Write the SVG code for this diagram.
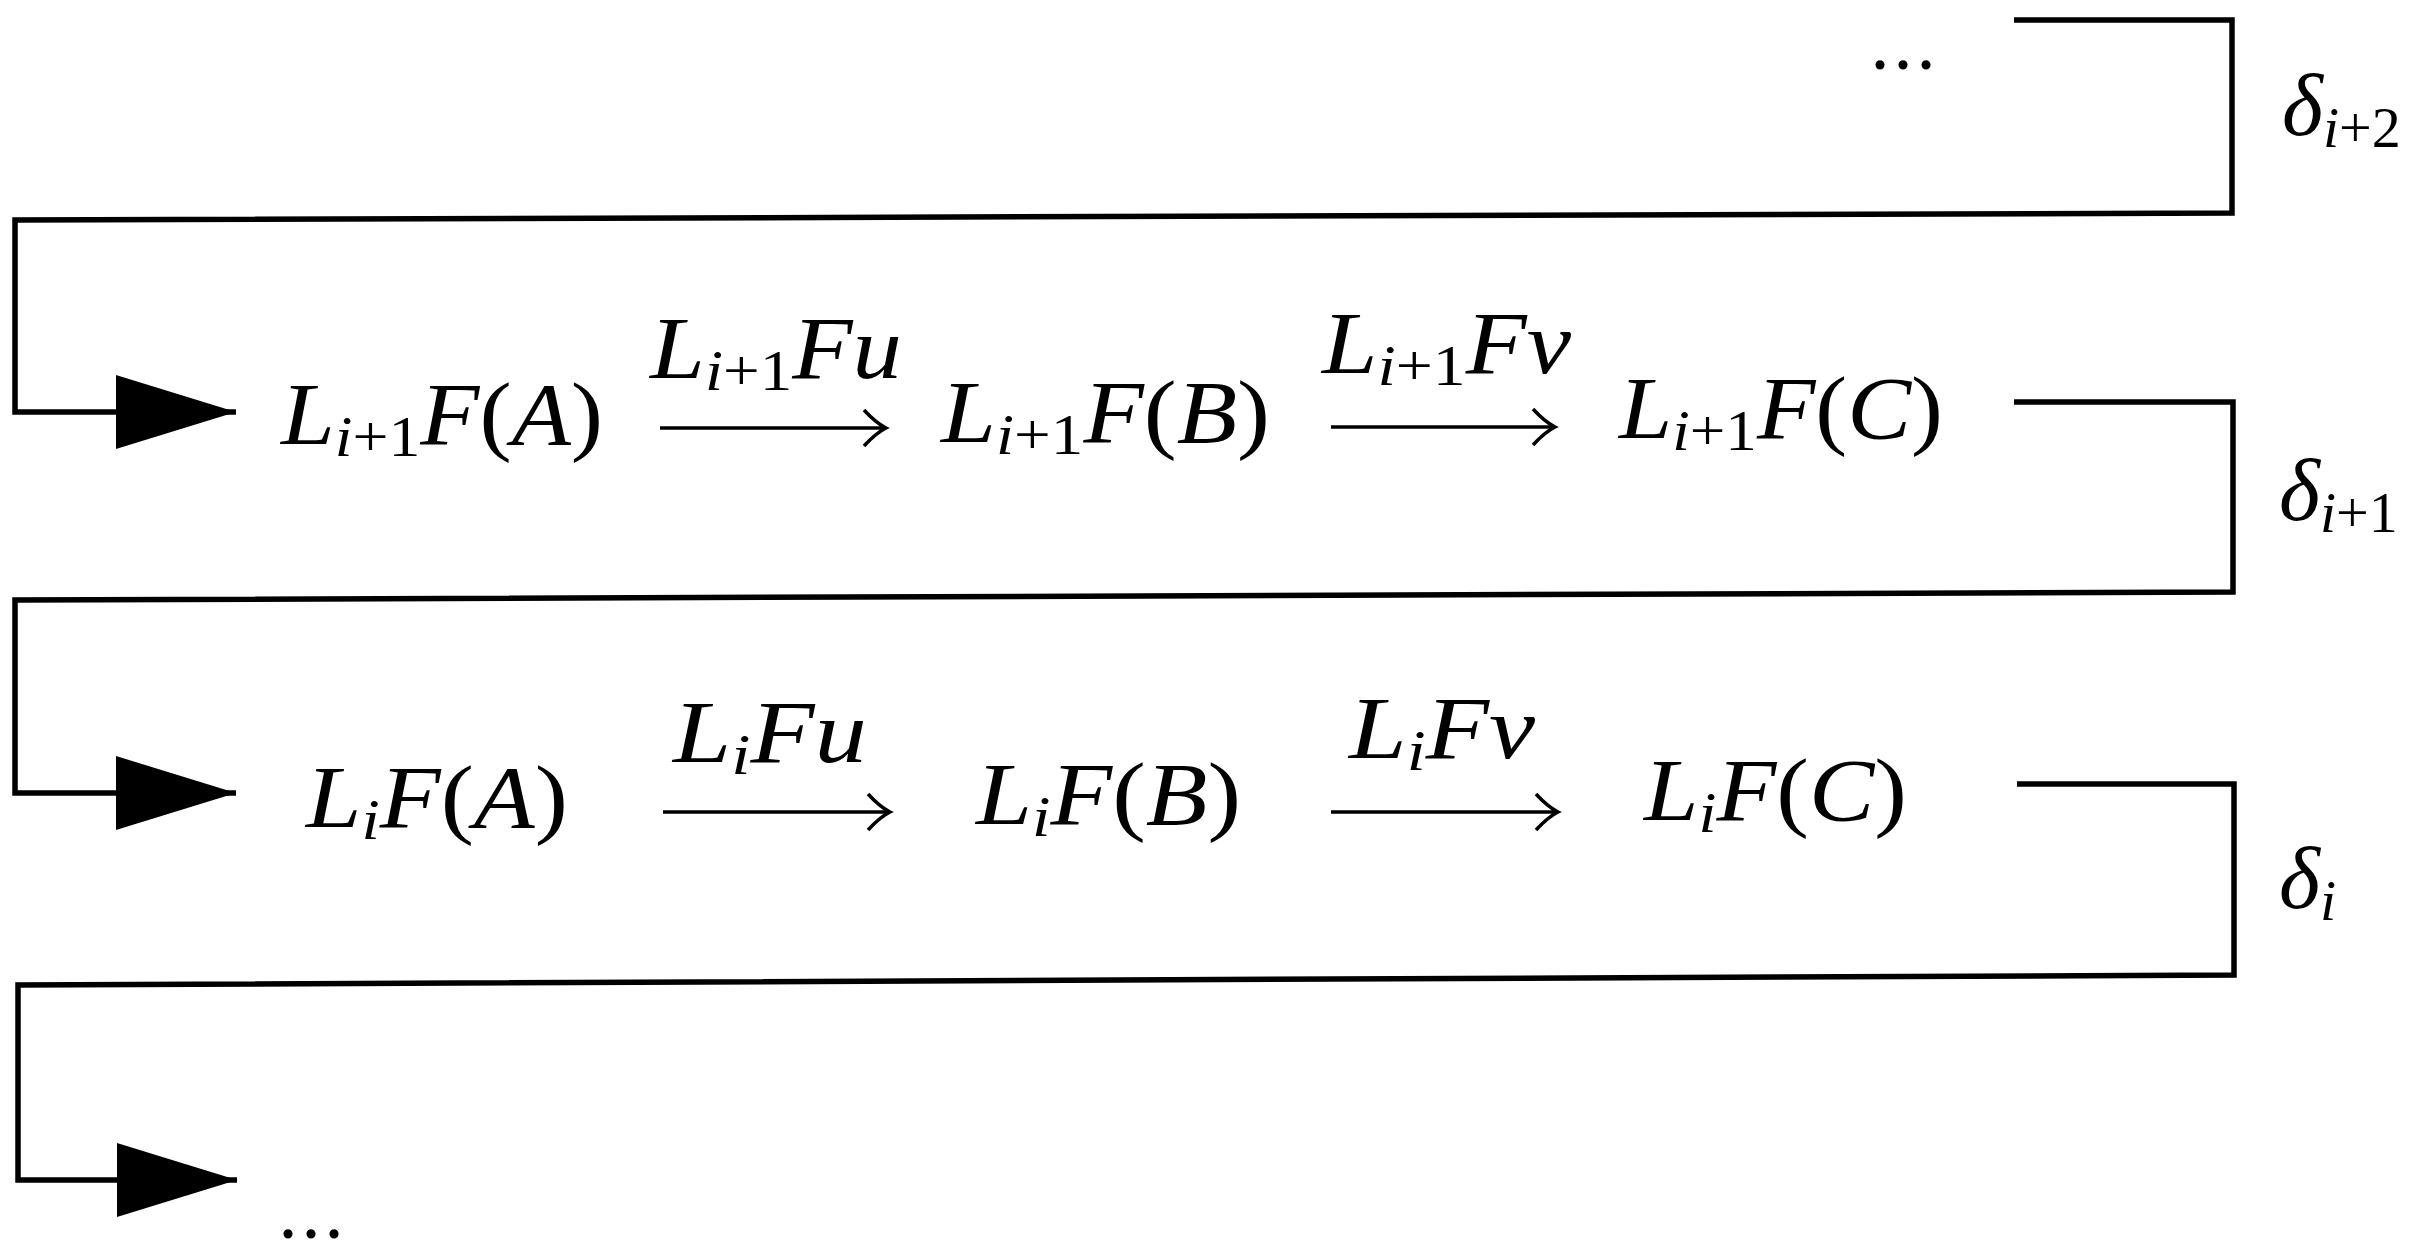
<svg xmlns="http://www.w3.org/2000/svg" width="2422" height="1253" viewBox="0 0 2422 1253">
<style>
.m{font-family:"Liberation Serif","Times New Roman",serif;font-size:88px;font-style:italic;fill:#000}
.u{font-style:normal}
.s{font-size:58px}
.d{font-family:"Liberation Serif","Times New Roman",serif;font-size:56px;font-weight:bold;letter-spacing:9px;fill:#000}
.br{fill:none;stroke:#000;stroke-width:5.5;stroke-linejoin:miter;marker-end:url(#tri)}
.ar{fill:none;stroke:#000;stroke-width:3.5;marker-end:url(#ah)}
</style>
<defs>
<marker id="tri" markerUnits="userSpaceOnUse" viewBox="0 0 122 74" markerWidth="122" markerHeight="74" refX="120" refY="37" orient="auto"><path d="M0,0 L120,37 L0,74 z" fill="#000"/></marker>
<marker id="ah" markerUnits="userSpaceOnUse" viewBox="0 0 30 40" markerWidth="30" markerHeight="40" refX="25" refY="20" orient="auto"><path d="M3,2 Q15,15 25,20 Q15,25 3,38" fill="none" stroke="#000" stroke-width="3.5"/></marker>
</defs>
<rect width="2422" height="1253" fill="#fff"/>
<g id="connectors">
<path class="br" d="M2014,20 L2232,20 L2232,213 L15,220 L15,412 L236,412"/>
<path class="br" d="M2014,402 L2233,402 L2233,592 L15,600 L15,793 L236,793"/>
<path class="br" d="M2017,784 L2234,784 L2234,975 L18,985 L18,1180 L237,1180"/>
<path class="ar" d="M660,428 L886,428"/>
<path class="ar" d="M1331,427 L1555,427"/>
<path class="ar" d="M663,812 L890,812"/>
<path class="ar" d="M1331,812 L1558,812"/>
<text class="m" x="650" y="378" textLength="252" lengthAdjust="spacingAndGlyphs">L<tspan class="s" dy="12">i</tspan><tspan class="s u">+1</tspan><tspan dy="-12">Fu</tspan></text>
<text class="m" x="1322" y="373" textLength="249" lengthAdjust="spacingAndGlyphs">L<tspan class="s" dy="12">i</tspan><tspan class="s u">+1</tspan><tspan dy="-12">Fv</tspan></text>
<text class="m" x="673" y="762" textLength="194" lengthAdjust="spacingAndGlyphs">L<tspan class="s" dy="12">i</tspan><tspan dy="-12">Fu</tspan></text>
<text class="m" x="1349" y="758" textLength="186" lengthAdjust="spacingAndGlyphs">L<tspan class="s" dy="12">i</tspan><tspan dy="-12">Fv</tspan></text>
<text class="m" x="2282" y="135">δ<tspan class="s" dy="12">i</tspan><tspan class="s u">+2</tspan></text>
<text class="m" x="2279" y="520">δ<tspan class="s" dy="12">i</tspan><tspan class="s u">+1</tspan></text>
<text class="m" x="2279" y="908">δ<tspan class="s" dy="12">i</tspan></text>
</g>
<g id="node-top-dots"><text class="d" x="1873" y="69">...</text></g>
<g id="node-Li1FA"><text class="m" x="281" y="444" textLength="322" lengthAdjust="spacingAndGlyphs">L<tspan class="s" dy="12">i</tspan><tspan class="s u">+1</tspan><tspan dy="-12">F</tspan><tspan class="u">(</tspan>A<tspan class="u">)</tspan></text></g>
<g id="node-Li1FB"><text class="m" x="941" y="442" textLength="329" lengthAdjust="spacingAndGlyphs">L<tspan class="s" dy="12">i</tspan><tspan class="s u">+1</tspan><tspan dy="-12">F</tspan><tspan class="u">(</tspan>B<tspan class="u">)</tspan></text></g>
<g id="node-Li1FC"><text class="m" x="1619" y="438" textLength="324" lengthAdjust="spacingAndGlyphs">L<tspan class="s" dy="12">i</tspan><tspan class="s u">+1</tspan><tspan dy="-12">F</tspan><tspan class="u">(</tspan>C<tspan class="u">)</tspan></text></g>
<g id="node-LiFA"><text class="m" x="306" y="827" textLength="262" lengthAdjust="spacingAndGlyphs">L<tspan class="s" dy="12">i</tspan><tspan dy="-12">F</tspan><tspan class="u">(</tspan>A<tspan class="u">)</tspan></text></g>
<g id="node-LiFB"><text class="m" x="976" y="824" textLength="265" lengthAdjust="spacingAndGlyphs">L<tspan class="s" dy="12">i</tspan><tspan dy="-12">F</tspan><tspan class="u">(</tspan>B<tspan class="u">)</tspan></text></g>
<g id="node-LiFC"><text class="m" x="1644" y="820" textLength="263" lengthAdjust="spacingAndGlyphs">L<tspan class="s" dy="12">i</tspan><tspan dy="-12">F</tspan><tspan class="u">(</tspan>C<tspan class="u">)</tspan></text></g>
<g id="node-bottom-dots"><text class="d" x="281" y="1238">...</text></g>
</svg>
